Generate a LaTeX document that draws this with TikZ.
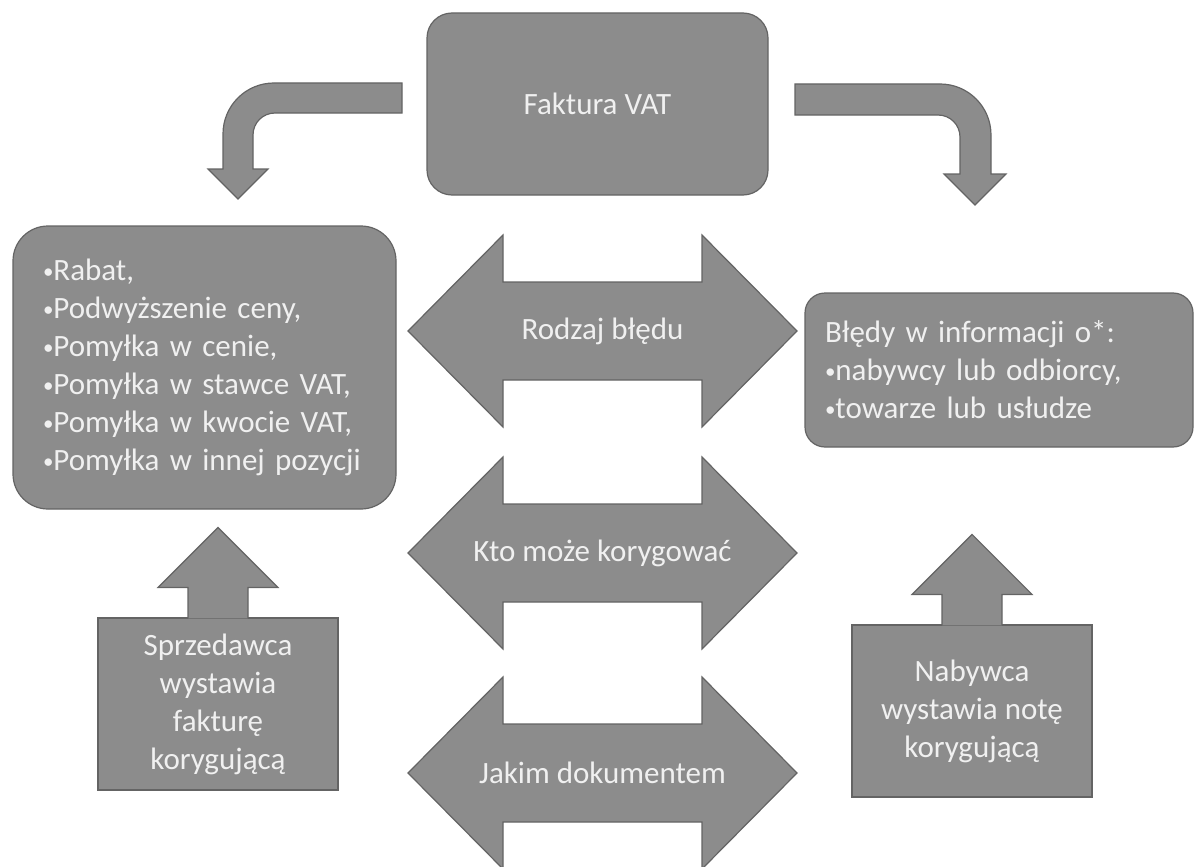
\documentclass[tikz,border=0pt]{standalone}
\usepackage{fontspec}
\setmainfont{Carlito}
\usepackage{xcolor}
\usepackage{tikz}
\definecolor{boxfill}{RGB}{140,140,140}
\definecolor{boxline}{RGB}{100,100,100}
\definecolor{boxtext}{RGB}{240,240,240}
\newcommand{\blt}{\raisebox{2pt}{\fontsize{21}{21}\selectfont •}}
\tikzset{
  shapebox/.style={draw=boxline, line width=1.2pt, fill=boxfill, text=boxtext,
    font=\fontsize{31}{38}\selectfont, inner sep=0pt},
  roundbox/.style={shapebox, rounded corners=25pt},
  blockarrow/.style={draw=boxline, line width=1.2pt, fill=boxfill, line join=miter},
  arrowtext/.style={text=boxtext, font=\fontsize{31}{38}\selectfont, inner sep=0pt}
}

\begin{document}
\begin{tikzpicture}[x=1pt,y=-1pt]
        \useasboundingbox (0,0) rectangle (1195,867);

        \node[roundbox, minimum width=341pt, minimum height=182pt] (faktura) at (597.5,104) {Faktura VAT};

        \draw[blockarrow] (402,83) -- (274,83) .. controls (245.8,83) and (223,105.8) .. (223,134) -- (223,169)
          -- (208,169) -- (238,199) -- (268,169) -- (253,169) -- (253,135)
          .. controls (253,122.8) and (262.8,113) .. (275,113) -- (402,113) -- cycle;
        \draw[blockarrow] (795,84) -- (940,84) .. controls (968.2,84) and (991,106.8) .. (991,135) -- (991,174)
          -- (1006,174) -- (975,205) -- (944,174) -- (960,174) -- (960,137)
          .. controls (960,124.8) and (950.2,115) .. (938,115) -- (795,115) -- cycle;

        \node[roundbox, rounded corners=35pt, minimum width=383pt, minimum height=283pt,
          text width=323pt, align=left] (bledyceny) at (204.5,367.5)
          {\blt Rabat,\\\blt Podwyższenie ceny,\\\blt Pomyłka w cenie,\\\blt Pomyłka w stawce VAT,\\\blt Pomyłka w kwocie VAT,\\\blt Pomyłka w innej pozycji};
        \node[roundbox, rounded corners=20pt, minimum width=388pt, minimum height=154pt,
          text width=348pt, align=left] (bledyinfo) at (999,370)
          {Błędy w informacji o*:\\\blt nabywcy lub odbiorcy,\\\blt towarze lub usłudze};

        \foreach \yc/\txt/\nm in {331/Rodzaj błędu/rodzaj, 553/Kto może korygować/kto, 773/Jakim dokumentem/jakim} {
          \draw[blockarrow] (408,\yc) -- (503,{\yc-96}) -- (503,{\yc-49}) -- (702,{\yc-49}) -- (702,{\yc-96})
            -- (797,\yc) -- (702,{\yc+96}) -- (702,{\yc+49}) -- (503,{\yc+49}) -- (503,{\yc+96}) -- cycle;
          \node[arrowtext] (\nm) at (602.5,\yc) {\txt};
        }

        \node[shapebox, minimum width=240pt, minimum height=172pt, align=center] (sprzedawca) at (218,704)
          {Sprzedawca\\wystawia\\fakturę\\korygującą};
        \node[shapebox, minimum width=240pt, minimum height=172pt, align=center] (nabywca) at (972,711)
          {Nabywca\\wystawia notę\\korygującą};

        \path[blockarrow] ([xshift=-30pt,yshift=-1pt]sprzedawca.north) -- ++(0,-31) -- ++(-30,0) -- ++(60,-60)
          -- ++(60,60) -- ++(-30,0) -- ++(0,31);
        \path[blockarrow] ([xshift=-30pt,yshift=-1pt]nabywca.north) -- ++(0,-31) -- ++(-30,0) -- ++(60,-60)
          -- ++(60,60) -- ++(-30,0) -- ++(0,31);
\end{tikzpicture}
\end{document}
